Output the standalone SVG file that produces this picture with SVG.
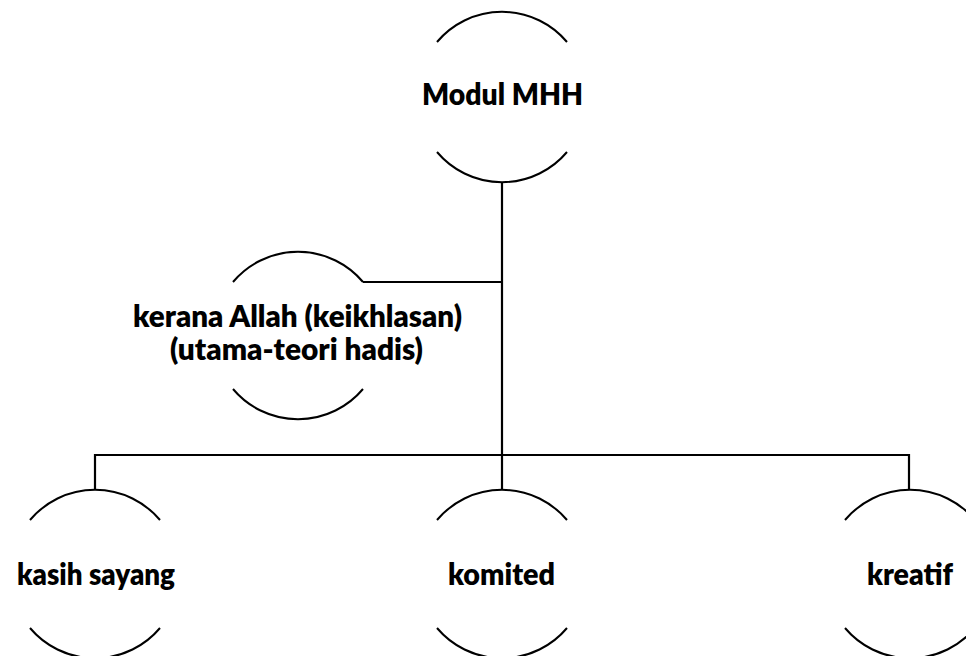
<svg xmlns="http://www.w3.org/2000/svg" width="966" height="656" viewBox="0 0 966 656">
<style>
.arc{fill:none;stroke:#000;stroke-width:2}
.con{fill:none;stroke:#000;stroke-width:2.2}
.lbl{font-family:Lato,"Open Sans","Liberation Sans",sans-serif;font-weight:800;font-size:30px;fill:#000;text-anchor:middle}
</style>
<rect width="966" height="656" fill="#fff"/>
<g id="connectors">
<path class="con" d="M502 182 V455"/>
<path class="con" d="M363 282 H502"/>
<path class="con" d="M95 490 V455 H909 V490"/>
<path class="con" d="M502 455 V490"/>
</g>
<g id="node-modul">
<path class="arc" d="M437 42 A85 85 0 0 1 567 42"/>
<path class="arc" d="M437 152 A85 85 0 0 0 567 152"/>
<text class="lbl" x="502.5" y="105" textLength="161" lengthAdjust="spacingAndGlyphs">Modul MHH</text>
</g>
<g id="node-kerana">
<path class="arc" d="M233 282 A85 85 0 0 1 363 282"/>
<path class="arc" d="M233 389 A85 85 0 0 0 363 389"/>
<text class="lbl" x="297.5" y="327" textLength="329" lengthAdjust="spacingAndGlyphs">kerana Allah (keikhlasan)</text>
<text class="lbl" x="296.5" y="360" textLength="253" lengthAdjust="spacingAndGlyphs">(utama-teori hadis)</text>
</g>
<g id="node-kasih">
<path class="arc" d="M30 520 A85 85 0 0 1 160 520"/>
<path class="arc" d="M30 628 A85 85 0 0 0 160 628"/>
<text class="lbl" x="96" y="585" textLength="158" lengthAdjust="spacingAndGlyphs">kasih sayang</text>
</g>
<g id="node-komited">
<path class="arc" d="M437 520 A85 85 0 0 1 567 520"/>
<path class="arc" d="M437 628 A85 85 0 0 0 567 628"/>
<text class="lbl" x="501.5" y="585" textLength="107" lengthAdjust="spacingAndGlyphs">komited</text>
</g>
<g id="node-kreatif">
<path class="arc" d="M845 520 A85 85 0 0 1 975 520"/>
<path class="arc" d="M845 628 A85 85 0 0 0 975 628"/>
<text class="lbl" x="910" y="585" textLength="86" lengthAdjust="spacingAndGlyphs">kreatif</text>
</g>
</svg>
